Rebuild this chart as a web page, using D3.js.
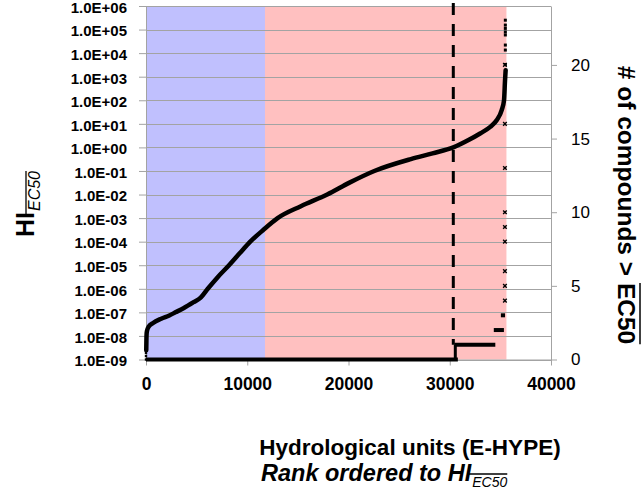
<!DOCTYPE html>
<html><head><meta charset="utf-8">
<script src="https://cdn.jsdelivr.net/npm/d3@7"></script>
<style>
body{margin:0;background:#fff}
svg{display:block}
text{font-family:"Liberation Sans",Arial,sans-serif;fill:#000}
</style>
</head><body>
<svg id="chart" width="644" height="490"></svg>
<script>
// ---------- data ----------
const xTicks = [0, 10000, 20000, 30000, 40000];
const yLeftTicks = [1e-9,1e-8,1e-7,1e-6,1e-5,1e-4,1e-3,1e-2,1e-1,1e0,1e1,1e2,1e3,1e4,1e5,1e6];
const yLeftLabels = ["1.0E-09","1.0E-08","1.0E-07","1.0E-06","1.0E-05","1.0E-04","1.0E-03","1.0E-02","1.0E-01","1.0E+00","1.0E+01","1.0E+02","1.0E+03","1.0E+04","1.0E+05","1.0E+06"];
const yRightTicks = [0, 5, 10, 15, 20];

const regionStart = [0, 11750];
const regionEnd = [11750, 35600];

// HI (EC50) rank-ordered curve
const hiRank  = [25, 40, 55, 90, 250, 700, 1500, 2300, 2900, 3700, 4700, 5400, 6100, 7100, 8200, 9250, 10300, 11600, 13000, 15300, 17900, 20100, 22550, 26160, 28300, 30350, 31900, 33000, 34000, 34650, 35130, 35360, 35460, 35520];
const hiValue = [2.5e-9, 6.3e-9, 1.12e-8, 1.58e-8, 2.4e-8, 3.55e-8, 5.4e-8, 7.4e-8, 1.0e-7, 1.5e-7, 2.7e-7, 4.2e-7, 1.0e-6, 3.2e-6, 1.0e-5, 3.2e-5, 1.0e-4, 3.2e-4, 1.0e-3, 3.2e-3, 1.0e-2, 3.2e-2, 0.1, 0.32, 0.56, 1.0, 2.1, 3.9, 7.4, 14.5, 38, 100, 710, 1900];
// isolated highest HI values
const hiTailRank  = [35490, 35490, 35490, 35490, 35490, 35490, 35490, 35490];
const hiTailValue = [3300, 13500, 22000, 59000, 79000, 112000, 155000, 250000];
// isolated lowest HI values at the start
const hiLowRank  = [0, 0, 0];
const hiLowValue = [1.0e-9, 1.4e-9, 1.9e-9];

// number of compounds > EC50 (right axis)
const countRunStart = [0, 30450, 34350, 35050];
const countRunEnd   = [30800, 34500, 35350, 35460];
const countRunValue = [0, 1, 2, 3];
const countPointRank  = [35450, 35450, 35450, 35450, 35450, 35450, 35450, 35450, 35450];
const countPointValue = [4, 5, 6, 8, 9, 10, 13, 16, 20];

// threshold HI = 1
const thresholdRank = 30350;

// ---------- layout ----------
const L = 146, R = 551, T = 6, B = 359.5;
const svg = d3.select("#chart");
const x = d3.scaleLinear().domain([0, 40000]).range([L, R]);
const yL = d3.scaleLog().domain([1e-9, 1e6]).range([B, T]);
const yR = d3.scaleLinear().domain([0, 24]).range([B, T]);

// background regions
const regionColors = ["#c0c0fe", "#ffc0c0"];
svg.append("g").selectAll("rect").data(regionStart).join("rect")
  .attr("x", (d,i) => x(regionStart[i]))
  .attr("width", (d,i) => x(regionEnd[i]) - x(regionStart[i]))
  .attr("y", T).attr("height", B - T)
  .attr("fill", (d,i) => regionColors[i]);

// gridlines
svg.append("g").selectAll("line").data(yLeftTicks).join("line")
  .attr("x1", L).attr("x2", R)
  .attr("y1", d => Math.round(yL(d)) + 0.5).attr("y2", d => Math.round(yL(d)) + 0.5)
  .attr("stroke", "#a3a3a3").attr("stroke-width", 1);

// left axis
const leftAxis = d3.axisLeft(yL).tickValues(yLeftTicks)
  .tickFormat((d,i) => yLeftLabels[i]).tickSizeInner(7).tickSizeOuter(0).tickPadding(12);
const gL = svg.append("g").attr("transform", `translate(${L},0)`).call(leftAxis);
gL.select(".domain").attr("stroke", "#a3a3a3");
gL.selectAll(".tick line").attr("stroke", "#a3a3a3");
gL.selectAll(".tick text").attr("font-size", 15).attr("font-weight", "bold").attr("dy", "0.42em")
  .attr("font-family", "Liberation Sans, Arial, sans-serif").attr("fill", "#000");

// right axis
const rightAxis = d3.axisRight(yR).tickValues(yRightTicks).tickSizeInner(6).tickSizeOuter(0).tickPadding(14);
const gR = svg.append("g").attr("transform", `translate(${R},0)`).call(rightAxis);
gR.select(".domain").attr("stroke", "#a3a3a3");
gR.selectAll(".tick line").attr("stroke", "#a3a3a3");
gR.selectAll(".tick text").attr("font-size", 17)
  .attr("font-family", "Liberation Sans, Arial, sans-serif").attr("fill", "#000");

// bottom axis
const bottomAxis = d3.axisBottom(x).tickValues(xTicks).tickFormat(d3.format("d"))
  .tickSizeInner(6).tickSizeOuter(0).tickPadding(12);
const gB = svg.append("g").attr("transform", `translate(0,${B})`).call(bottomAxis);
gB.select(".domain").attr("stroke", "#a3a3a3");
gB.selectAll(".tick line").attr("stroke", "#a3a3a3");
gB.selectAll(".tick text").attr("font-size", 17.5).attr("font-weight", "bold")
  .attr("font-family", "Liberation Sans, Arial, sans-serif").attr("fill", "#000");

// threshold dashed line
svg.append("line")
  .attr("x1", x(thresholdRank)).attr("x2", x(thresholdRank))
  .attr("y1", 3).attr("y2", yR(1))
  .attr("stroke", "#000").attr("stroke-width", 3).attr("stroke-dasharray", "12,9");

// count runs
svg.append("g").selectAll("line").data(countRunValue).join("line")
  .attr("x1", (d,i) => x(countRunStart[i])).attr("x2", (d,i) => x(countRunEnd[i]))
  .attr("y1", d => yR(d)).attr("y2", d => yR(d))
  .attr("stroke", "#000").attr("stroke-width", 4);
// step connector from 0 to 1
svg.append("line")
  .attr("x1", x(countRunStart[1]) + 1).attr("x2", x(countRunStart[1]) + 1)
  .attr("y1", yR(0)).attr("y2", yR(1))
  .attr("stroke", "#000").attr("stroke-width", 3);

// count isolated points (x markers)
const cp = svg.append("g");
countPointValue.forEach((v,i) => {
  const cx = x(countPointRank[i]), cy = yR(v), s = 1.8;
  cp.append("path").attr("d", `M${cx-s},${cy-s}L${cx+s},${cy+s}M${cx-s},${cy+s}L${cx+s},${cy-s}`)
    .attr("stroke", "#000").attr("stroke-width", 1.4);
});

// HI curve
const hiData = hiRank.map((r,i) => [r, hiValue[i]]);
svg.append("path").datum(hiData)
  .attr("d", d3.line().x(d => x(d[0])).y(d => yL(d[1])).curve(d3.curveMonotoneX))
  .attr("fill", "none").attr("stroke", "#000").attr("stroke-width", 4.5)
  .attr("stroke-linejoin", "round").attr("stroke-linecap", "round");

// HI isolated points
svg.append("g").selectAll("rect").data(hiTailValue).join("rect")
  .attr("x", (d,i) => x(hiTailRank[i]) - 1.5).attr("y", d => yL(d) - 1.5)
  .attr("width", 3).attr("height", 3).attr("fill", "#000");
svg.append("g").selectAll("rect").data(hiLowValue).join("rect")
  .attr("x", (d,i) => x(hiLowRank[i]) - 1.2).attr("y", d => yL(d) - 1.2)
  .attr("width", 2.4).attr("height", 2.4).attr("fill", "#000");

// ---------- titles ----------
function subTitle(g, mainText, subText, mainSize, subSize, italicMain) {
  const t = g.append("text").attr("font-weight", "bold").attr("font-size", mainSize)
    .attr("font-style", italicMain ? "italic" : "normal").text(mainText);
  const w = t.node().getComputedTextLength();
  const s = g.append("text").attr("x", w + 1).attr("y", subSize * 0.4)
    .attr("font-size", subSize).attr("font-style", "italic").text(subText);
  const sw = s.node().getComputedTextLength();
  g.append("line").attr("x1", w - 3).attr("x2", w + 1 + sw)
    .attr("y1", -subSize * 0.5).attr("y2", -subSize * 0.5)
    .attr("stroke", "#000").attr("stroke-width", 1.3);
  return w + 1 + sw;
}

// left title
const lt = svg.append("g").attr("transform", "translate(34,237) rotate(-90)");
subTitle(lt, "HI", "EC50", 25, 16, false);

// right title
const rt = svg.append("g").attr("transform", "translate(618,205) rotate(90)");
const rtText = rt.append("text").attr("text-anchor", "middle").attr("font-weight", "bold")
  .attr("font-size", 24.5).text("# of compounds > EC50");
const full = rtText.node().getComputedTextLength();
const ecStart = rtText.node().getSubStringLength(0, 17);
rt.append("line").attr("x1", -full/2 + ecStart).attr("x2", full/2)
  .attr("y1", -22).attr("y2", -22).attr("stroke", "#000").attr("stroke-width", 1.5);

// x title
svg.append("text").attr("x", 410).attr("y", 455).attr("text-anchor", "middle")
  .attr("font-weight", "bold").attr("font-size", 22.5).text("Hydrological units (E-HYPE)");
const xt2 = svg.append("g").attr("transform", "translate(261,481)");
subTitle(xt2, "Rank ordered to HI", "EC50", 23.5, 14, true);
</script>
</body></html>
